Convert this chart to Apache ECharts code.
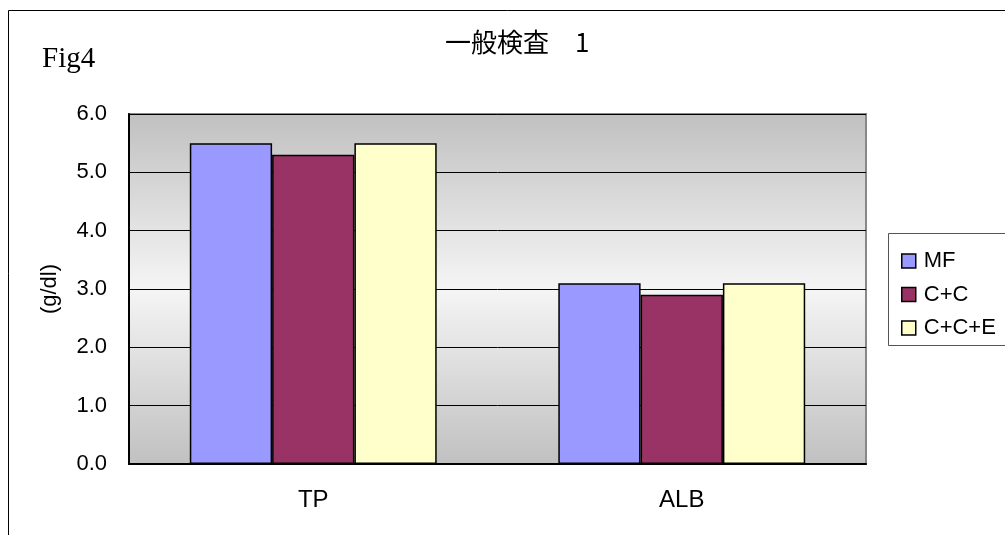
<!DOCTYPE html>
<html>
<head>
<meta charset="utf-8">
<script src="https://cdn.jsdelivr.net/npm/echarts@6/dist/echarts.min.js"></script>
<style>
  html, body { margin: 0; padding: 0; background: #ffffff; }
  #chart { width: 1005px; height: 535px; }
</style>
</head>
<body>
<div id="chart"></div>
<script>
// Test categories and group means (g/dl)
const categories = ['TP', 'ALB'];
const seriesNames = ['MF', 'C+C', 'C+C+E'];
const valuesMF = [5.5, 3.1];
const valuesCC = [5.3, 2.9];
const valuesCCE = [5.5, 3.1];
const seriesColors = ['#9999ff', '#993366', '#ffffcc'];
const yTickMin = 0, yTickMax = 6, yTickStep = 1;

const seriesValues = [valuesMF, valuesCC, valuesCCE];
const textFont = '"Liberation Sans", Arial, sans-serif';

const chart = echarts.init(document.getElementById('chart'), null, { renderer: 'canvas' });

chart.setOption({
  animation: false,
  backgroundColor: '#ffffff',
  graphic: [
    {
      // outer chart frame
      type: 'rect',
      silent: true,
      shape: { x: 8.5, y: 10.5, width: 1100, height: 600 },
      style: { fill: 'none', stroke: '#000000', lineWidth: 1 }
    },
    {
      type: 'text',
      left: 42, top: 45,
      style: { text: 'Fig4', font: '29px "Liberation Serif", "DejaVu Serif", serif', fill: '#000000' }
    },
    {
      // legend frame
      type: 'rect',
      silent: true,
      shape: { x: 888.5, y: 233.5, width: 200, height: 112 },
      style: { fill: '#ffffff', stroke: '#555555', lineWidth: 1 },
      z: 0
    }
  ],
  title: {
    text: '一般検査\u30001',
    left: 440, top: 24,
    textStyle: { fontFamily: '"Noto Sans CJK JP", sans-serif', fontSize: 26, fontWeight: 'normal', color: '#000000' }
  },
  legend: {
    orient: 'vertical',
    left: 896, top: 245,
    itemWidth: 14, itemHeight: 14,
    itemGap: 11.5,
    icon: 'rect',
    data: seriesNames,
    textStyle: { fontFamily: textFont, fontSize: 22, lineHeight: 22, color: '#000000', padding: [0, 0, 0, 3] },
    itemStyle: { borderColor: '#000000', borderWidth: 1.5 }
  },
  grid: {
    left: 129, top: 114, width: 737, height: 350,
    show: true,
    borderColor: '#888888',
    borderWidth: 2,
    backgroundColor: new echarts.graphic.LinearGradient(0, 0, 0, 1, [
      { offset: 0, color: '#c0c0c0' },
      { offset: 0.5, color: '#f5f5f5' },
      { offset: 1, color: '#c0c0c0' }
    ]),
    containLabel: false
  },
  xAxis: {
    type: 'category',
    data: categories,
    axisLine: { lineStyle: { color: '#000000', width: 2 } },
    axisTick: { inside: true, length: 8, lineStyle: { color: '#000000' } },
    axisLabel: { margin: 24, fontFamily: textFont, fontSize: 24, color: '#000000' }
  },
  yAxis: {
    type: 'value',
    min: yTickMin, max: yTickMax, interval: yTickStep,
    name: '(g/dl)',
    nameLocation: 'middle',
    nameGap: 68,
    nameTextStyle: { fontFamily: textFont, fontSize: 22, color: '#000000' },
    axisLine: { show: true, lineStyle: { color: '#000000', width: 2 } },
    axisTick: { show: true, inside: true, length: 9, lineStyle: { color: '#000000' } },
    axisLabel: {
      margin: 22,
      fontFamily: textFont, fontSize: 22, color: '#000000',
      formatter: v => v.toFixed(1)
    },
    splitLine: { show: true, lineStyle: { color: '#000000', width: 1 } }
  },
  series: seriesNames.map((name, i) => ({
    name,
    type: 'bar',
    data: seriesValues[i],
    barGap: '0%',
    barCategoryGap: '33%',
    itemStyle: { color: seriesColors[i], borderColor: '#000000', borderWidth: 1.5 },
    z: 3
  }))
});
</script>
</body>
</html>
